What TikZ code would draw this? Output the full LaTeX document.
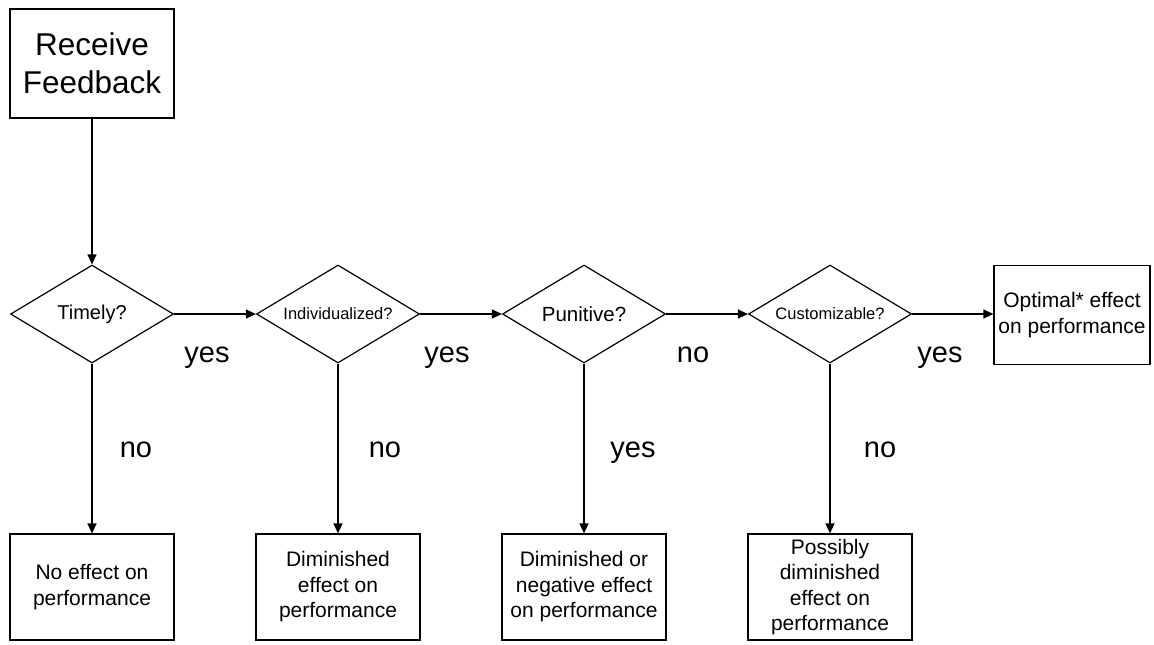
\documentclass[tikz,border=0pt]{standalone}
\usepackage{fontspec}
\setmainfont{Liberation Sans}
\usetikzlibrary{shapes.geometric,arrows.meta}
\tikzset{
  box/.style={draw, line width=1.2pt, inner sep=0pt, align=center, font=\fontsize{21}{25.5}\selectfont},
  dec/.style={draw, line width=1.2pt, diamond, inner sep=0pt, minimum width=163pt, minimum height=98pt, aspect=1.66},
  arr/.style={line width=1.2pt, -{Triangle[length=10pt,width=9pt]}},
  lbl/.style={anchor=base, inner sep=0pt, font=\fontsize{29}{33}\selectfont}
}
\begin{document}
\begin{tikzpicture}[x=1pt,y=-1pt]
\useasboundingbox (0,0) rectangle (1154,645);
\node[box, minimum width=164pt, minimum height=109pt, font=\fontsize{31.5}{38}\selectfont] (start) at (92,63.5) {Receive\\Feedback};
\node[dec, font=\fontsize{20}{24}\selectfont] (d1) at (92,314) {Timely?};
\node[dec, font=\fontsize{16.5}{20}\selectfont] (d2) at (338,314) {Individualized?};
\node[dec, font=\fontsize{20.5}{24}\selectfont] (d3) at (584,314) {Punitive?};
\node[dec, font=\fontsize{16.5}{20}\selectfont] (d4) at (830,314) {Customizable?};
\node[box, minimum width=156pt, minimum height=99pt] (opt) at (1072,315) {Optimal* effect\\on performance};
\node[box, minimum width=164pt, minimum height=106pt] (b1) at (92,587) {No effect on\\performance};
\node[box, minimum width=164pt, minimum height=106pt] (b2) at (338,587) {Diminished\\effect on\\performance};
\node[box, minimum width=164pt, minimum height=106pt] (b3) at (584,587) {Diminished or\\negative effect\\on performance};
\node[box, minimum width=164pt, minimum height=106pt] (b4) at (830,587) {Possibly\\diminished\\effect on\\performance};
\draw[arr] (start) -- (d1);
\draw[arr] (d1.east) -- (d2.west);
\draw[arr] (d2.east) -- (d3.west);
\draw[arr] (d3.east) -- (d4.west);
\draw[arr] (d4.east) -- (d4.east -| opt.west);
\draw[arr] (d1.south) -- (b1.north);
\draw[arr] (d2.south) -- (b2.north);
\draw[arr] (d3.south) -- (b3.north);
\draw[arr] (d4.south) -- (b4.north);
\node[lbl] (y1) at (207,362) {yes};
\node[lbl] (y2) at (447,362) {yes};
\node[lbl] (n3) at (693,362) {no};
\node[lbl] (y4) at (940,362) {yes};
\node[lbl] (n1) at (136,457) {no};
\node[lbl] (n2) at (385,457) {no};
\node[lbl] (y3) at (633,457) {yes};
\node[lbl] (n4) at (880,457) {no};
\end{tikzpicture}
\end{document}
